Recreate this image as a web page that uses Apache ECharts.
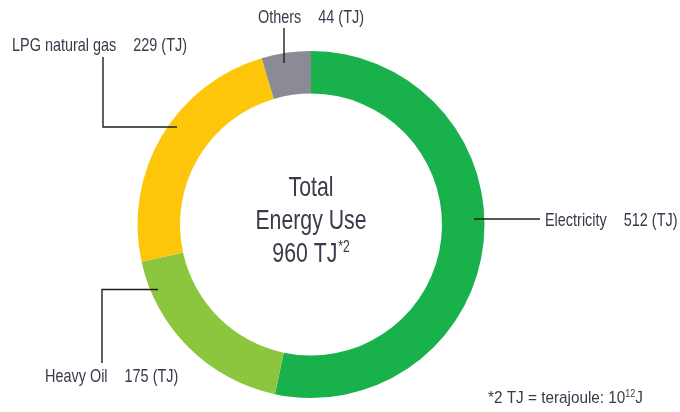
<!DOCTYPE html>
<html>
<head>
<meta charset="utf-8">
<script src="https://cdn.jsdelivr.net/npm/echarts@6/dist/echarts.min.js"></script>
<style>html,body{margin:0;padding:0;background:#fff;}#c{width:680px;height:412px;}</style>
</head>
<body>
<div id="c"></div>
<script>
// ---- data ----
var categories = ['Electricity', 'Heavy Oil', 'LPG natural gas', 'Others'];
var values = [512, 175, 229, 44];
var unit = 'TJ';

// ---- styling / layout (not data) ----
var colors = ['#19b14b', '#8cc63f', '#fec60b', '#8a8b95'];
var FONT = '"Liberation Sans", Arial, sans-serif';
var TEXT = '#3a3a4a';
var SX = 0.78; // condensed look
var labelLayoutCfg = [
  {x: 545, y: 221, pts: [[474, 219], [540, 219]]},
  {x: 45, y: 377, pts: [[158, 289.5], [102, 289.5], [102, 363]]},
  {x: 12, y: 46, pts: [[177, 127], [103, 127], [103, 57]]},
  {x: 258, y: 18, pts: [[284, 63], [284, 28]]}
];

var total = values.reduce(function (a, b) { return a + b; }, 0);
var chart = echarts.init(document.getElementById('c'), null, {renderer: 'canvas'});

var graphics = [
  {
    type: 'text', x: 311, y: 221, scaleX: 0.76, z: 20,
    style: {
      text: 'Total\nEnergy Use\n' + total + ' ' + unit + '{s|*2}',
      font: '28px ' + FONT,
      fill: TEXT,
      align: 'center',
      verticalAlign: 'middle',
      lineHeight: 33,
      rich: { s: { fontSize: 16, fontFamily: FONT, fill: TEXT, lineHeight: 33, padding: [0, 0, 12, 1] } }
    }
  },
  {
    type: 'text', x: 488, y: 398, z: 20, scaleX: 0.9,
    style: {
      text: '*2 TJ = terajoule: 10{sup|12}J',
      font: '17px ' + FONT,
      fill: TEXT,
      align: 'left',
      verticalAlign: 'middle',
      rich: { sup: { fontSize: 10, fontFamily: FONT, fill: TEXT, padding: [0, 0, 8, 0] } }
    }
  }
];
categories.forEach(function (c, i) {
  var cfg = labelLayoutCfg[i];
  graphics.push({
    type: 'text', x: cfg.x, y: cfg.y, scaleX: SX, z: 20,
    style: {
      text: '{n|' + c + '}{v|' + values[i] + ' (' + unit + ')}',
      fill: TEXT, align: 'left', verticalAlign: 'middle',
      rich: {
        n: { fontFamily: FONT, fontSize: 18.5, fill: TEXT },
        v: { fontFamily: FONT, fontSize: 18.5, fill: TEXT, padding: [0, 0, 0, 17 / SX] }
      }
    }
  });
  graphics.push({
    type: 'polyline', z: 30,
    shape: { points: cfg.pts },
    style: { stroke: '#1e1e1e', lineWidth: 1.4, fill: null }
  });
});

var option = {
  animation: false,
  backgroundColor: '#ffffff',
  graphic: graphics,
  series: [{
    type: 'pie',
    center: [311, 224.5],
    radius: [131, 173.5],
    startAngle: 90,
    clockwise: true,
    silent: true,
    itemStyle: { borderWidth: 0 },
    color: colors,
    data: categories.map(function (c, i) { return {name: c, value: values[i]}; }),
    label: { show: false },
    labelLine: { show: false }
  }]
};
chart.setOption(option);
</script>
</body>
</html>
